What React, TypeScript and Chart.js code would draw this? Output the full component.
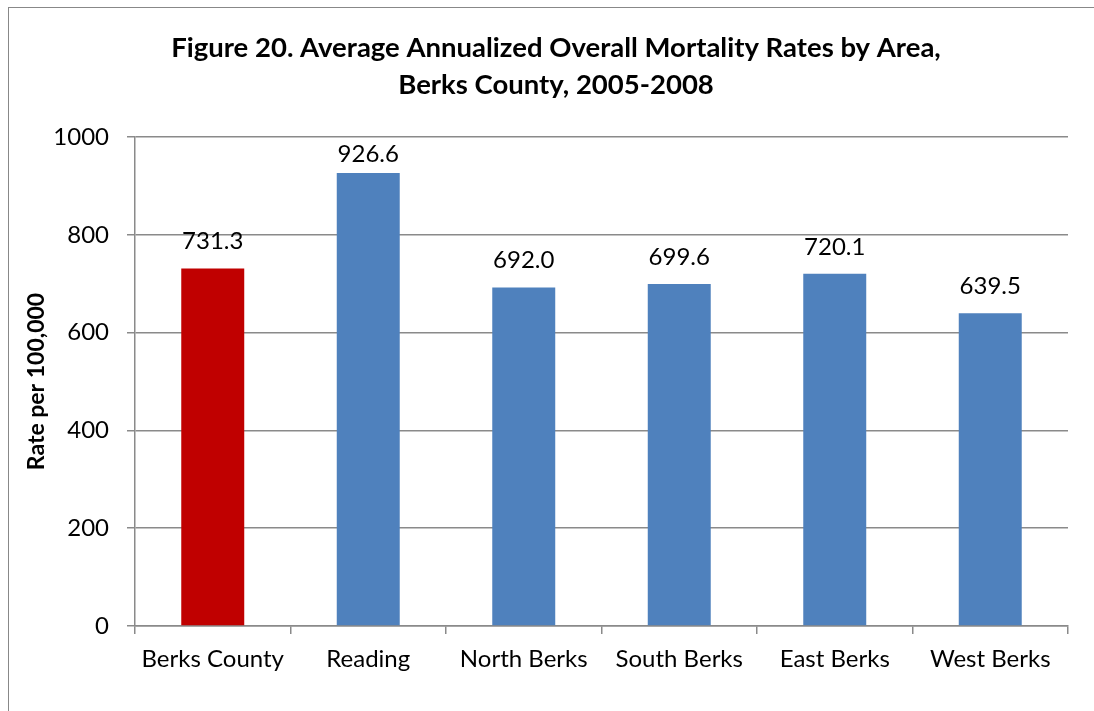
import React, { useEffect, useRef } from "react";
import { Chart, registerables } from "chart.js";

Chart.register(...registerables);

const titleLines = [
  "Figure 20. Average Annualized Overall Mortality Rates by Area,",
  "Berks County, 2005-2008",
];
const categories = ["Berks County", "Reading", "North Berks", "South Berks", "East Berks", "West Berks"];
const rates = [731.3, 926.6, 692.0, 699.6, 720.1, 639.5];
const barColors = ["#C00000", "#4F81BD", "#4F81BD", "#4F81BD", "#4F81BD", "#4F81BD"];
const yTitle = "Rate per 100,000";
const yMin = 0;
const yMax = 1000;
const yStep = 200;

const FONT = "Lato, 'Open Sans', sans-serif";
const GRID = "#8a8a8a";

const valueLabels = {
  id: "valueLabels",
  afterDatasetsDraw(chart: any) {
    const ctx = chart.ctx;
    const meta = chart.getDatasetMeta(0);
    const top = chart.chartArea.top;
    ctx.save();
    ctx.font = `24px ${FONT}`;
    ctx.fillStyle = "#000";
    ctx.textAlign = "center";
    ctx.textBaseline = "middle";
    meta.data.forEach((bar: any, i: number) => {
      const y = Math.max(bar.y - 27, top + 17);
      ctx.fillText(rates[i].toFixed(1), bar.x, y);
    });
    ctx.restore();
  },
};

export default function App() {
  const ref = useRef<HTMLCanvasElement>(null);
  useEffect(() => {
    if (!ref.current) return;
    const chart = new Chart(ref.current, {
      type: "bar",
      data: {
        labels: categories,
        datasets: [
          {
            data: rates,
            backgroundColor: barColors,
            borderWidth: 0,
            categoryPercentage: 1,
            barPercentage: 0.405,
          },
        ],
      },
      options: {
        responsive: false,
        animation: false,
        layout: { padding: { left: 0, right: 0, top: 0, bottom: 0 } },
        plugins: {
          legend: { display: false },
          tooltip: { enabled: false },
          title: {
            display: true,
            text: titleLines,
            color: "#000",
            font: { family: FONT, size: 27.5, weight: "bold", lineHeight: "37px" as any },
            padding: { top: 29.5, bottom: 33.5 },
          },
        },
        scales: {
          x: {
            offset: true,
            grid: { offset: true, drawOnChartArea: false, drawTicks: true, tickLength: 8, color: GRID, lineWidth: 1.5 },
            border: { display: true, color: GRID, width: 1.5 },
            ticks: { color: "#000", font: { family: FONT, size: 24 }, padding: 11, maxRotation: 0 },
            afterFit(scale: any) {
              scale.height = 85;
            },
          },
          y: {
            min: yMin,
            max: yMax,
            ticks: {
              stepSize: yStep,
              color: "#000",
              font: { family: FONT, size: 24 },
              padding: 18,
              callback: (v: any) => String(v),
            },
            grid: { color: GRID, lineWidth: 1.5, tickLength: 8, drawTicks: true },
            border: { display: true, color: GRID, width: 1.5 },
            title: {
              display: true,
              text: yTitle,
              color: "#000",
              font: { family: FONT, size: 23, weight: "bold" },
              padding: { top: 23, bottom: 0 },
            },
            afterFit(scale: any) {
              scale.width = 135;
            },
          },
          yRight: {
            type: "linear",
            position: "right",
            display: true,
            ticks: { display: false },
            grid: { display: false, drawOnChartArea: false },
            border: { display: false },
            afterFit(scale: any) {
              scale.width = 44;
            },
          },
        },
      },
      plugins: [valueLabels],
    });
    return () => chart.destroy();
  }, []);

  return (
    <div style={{ position: "fixed", left: 0, top: 0, width: 1094, height: 711, overflow: "hidden", background: "#fff" }}>
      <div
        style={{
          position: "absolute",
          left: 8,
          top: 7,
          width: 1200,
          height: 800,
          borderLeft: "1.5px solid #888",
          borderTop: "1.5px solid #888",
        }}
      />
      <canvas ref={ref} width={1112} height={711} style={{ position: "absolute", left: 0, top: 0, width: 1112, height: 711 }} />
    </div>
  );
}
